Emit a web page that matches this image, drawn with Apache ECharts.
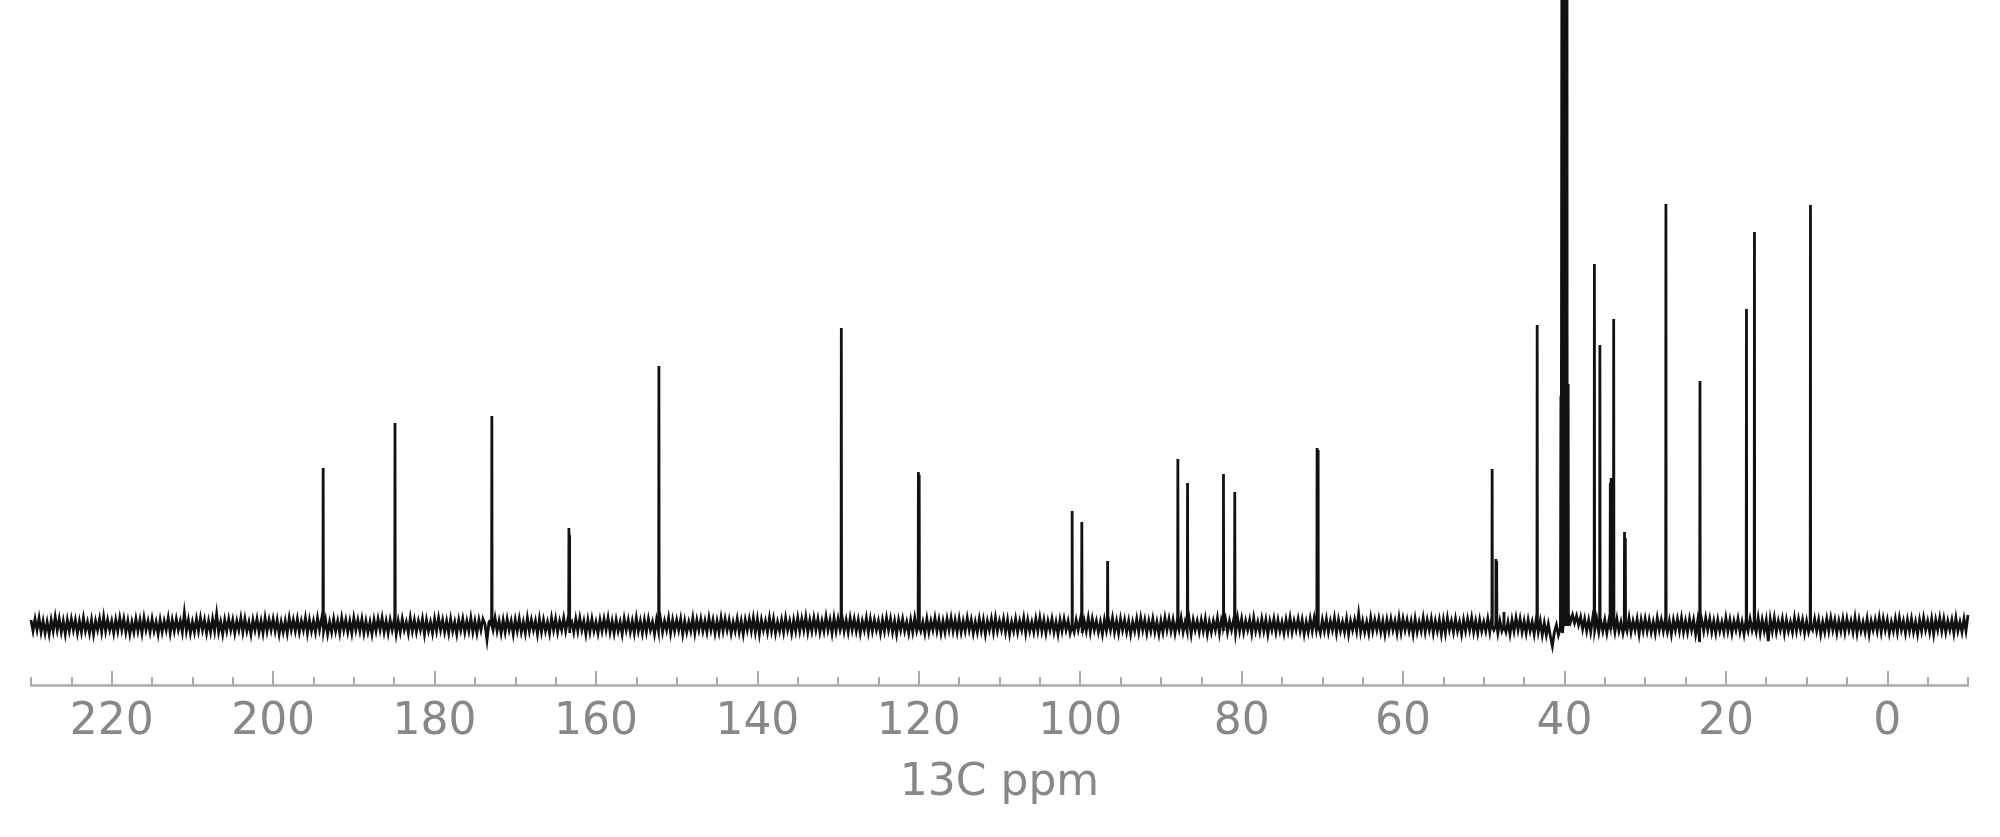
<!DOCTYPE html>
<html>
<head>
<meta charset="utf-8">
<script src="https://cdn.jsdelivr.net/npm/echarts@6/dist/echarts.min.js"></script>
<style>
  html, body { margin: 0; padding: 0; background: #ffffff; }
  #chart { width: 2000px; height: 837px; }
</style>
</head>
<body>
<div id="chart"></div>
<script>
// Peak positions (ppm) and heights (arbitrary intensity units)
const peakPpm = [
  193.8, 184.9, 172.9, 163.35, 163.27, 152.2, 129.6, 120.05, 119.95,
  101.0, 99.8, 96.6, 87.9, 86.7, 82.25, 80.85, 70.65, 70.52,
  48.96, 48.5, 48.4, 47.5, 43.38,
  40.44, 40.29, 40.14, 39.99, 39.84, 39.69, 39.54,
  36.29, 35.61, 34.32, 34.22, 33.9, 32.56, 32.46,
  27.43, 23.21, 17.45, 16.46, 9.52
];
const peakHeight = [
  158, 203, 210, 98, 91, 260, 298, 154, 151,
  115, 104, 65, 167, 143, 152, 134, 178, 176,
  157, 67, 65, 14, 301,
  230, 900, 1500, 1700, 1500, 900, 242,
  362, 281, 143, 148, 307, 94, 88,
  422, 245, 317, 394, 421
];

// Baseline noise, sampled every 0.25 ppm from 230 down to -10 ppm
const noiseStart = 230;
const noiseStep = 0.25;
const noise = [
  6,-5,7,-4,8,-6,5,-7,4,-8,6,-5,9,-4,7,-6,5,-8,6,-5,
  7,-4,6,-7,5,-6,8,-5,4,-7,6,-8,5,-4,7,-6,9,-5,6,-4,
  5,-7,6,-5,8,-4,7,-6,5,-8,4,-6,7,-5,6,-7,8,-4,5,-6,
  7,-5,4,-8,6,-6,5,-4,8,-7,6,-5,7,-4,5,-6,13,-5,6,-7,
  4,-6,7,-5,8,-4,6,-7,5,-6,7,-5,12,-6,4,-8,6,-5,7,-4,
  6,-7,5,-4,8,-6,7,-5,4,-8,6,-4,7,-6,5,-7,8,-5,6,-4,
  7,-5,6,-8,4,-6,5,-7,8,-4,6,-5,7,-6,5,-4,8,-7,6,-5,
  5,-6,8,-4,7,-5,6,-8,4,-6,7,-5,5,-7,8,-4,6,-6,5,-7,
  8,-4,6,-5,7,-7,5,-6,4,-8,6,-5,7,-4,8,-6,5,-7,6,-4,
  6,-8,5,-6,7,-4,4,-7,8,-5,6,-6,5,-4,7,-8,6,-5,4,-7,
  7,-5,8,-4,6,-6,5,-7,7,-5,4,-8,6,-4,7,-6,5,-5,8,-6,
  5,-7,6,-4,7,2,-14,4,6,-4,8,-5,5,-7,6,-6,7,-4,5,-8,
  6,-5,7,-6,4,-7,8,-5,6,-4,5,-8,7,-6,6,-5,4,-7,8,-4,
  7,-6,5,-4,8,-5,6,-7,4,-6,7,-5,8,-4,5,-8,6,-6,7,-5,
  4,-7,6,-5,7,-4,8,-6,5,-7,6,-5,4,-8,7,-4,6,-6,5,-7,
  8,-5,5,-7,6,-6,7,-4,4,-8,6,-5,7,-6,5,-4,8,-7,6,-5,
  6,-4,7,-8,5,-6,4,-5,8,-7,6,-4,7,-5,5,-6,8,-4,6,-7,
  5,-6,8,-5,7,-4,6,-7,4,-5,7,-6,5,-8,6,-4,7,-5,8,-6,
  7,-8,6,-4,5,-6,8,-5,7,-7,4,-5,6,-6,8,-4,5,-7,6,-5,
  8,-5,7,-4,9,-6,6,-5,8,-4,7,-6,5,-5,9,-4,6,-7,8,-5,
  7,-4,9,-5,6,-6,8,-4,7,-5,6,-7,5,-4,8,-6,7,-5,6,-4,
  5,-7,6,-5,8,-4,7,-6,5,-8,6,-4,7,-5,4,-7,6,-6,8,-5,
  6,-5,4,-7,7,-6,5,-4,8,-5,6,-7,5,-6,7,-4,8,-5,6,-6,
  7,-6,5,-5,8,-4,6,-7,4,-6,7,-5,6,-8,5,-4,7,-6,8,-5,
  5,-4,7,-6,6,-8,4,-5,7,-6,5,-4,8,-7,6,-5,4,-6,7,-5,
  8,-5,6,-7,5,-4,7,-6,4,-8,6,-5,7,-4,5,-7,8,-6,6,-4,
  6,-7,5,-5,8,-6,7,-4,5,-6,4,-8,6,-5,7,-4,8,-6,5,-7,
  7,-4,6,-6,5,-8,4,-5,7,-6,8,-4,6,-7,5,-5,7,-6,4,-8,
  5,-6,8,-4,7,-5,6,-7,5,-4,8,-6,4,-5,7,-8,6,-4,5,-6,
  6,-5,7,-8,4,-6,5,-4,8,-7,6,-5,7,-6,5,-4,6,-7,8,-5,
  7,-6,5,-4,6,-7,8,-5,4,-6,7,-5,6,-8,5,-4,7,-6,6,-5,
  4,-7,6,-5,8,-6,5,-4,7,-5,6,-8,4,-6,7,-5,8,-4,6,-7,
  6,-5,7,-6,5,-4,8,-7,6,-5,4,-6,7,-8,5,-4,6,-5,12,-6,
  5,-6,4,-7,8,-5,6,-4,7,-6,5,-8,6,-5,7,-4,5,-7,8,-6,
  7,-4,6,-5,5,-8,7,-6,4,-5,8,-6,6,-4,7,-7,5,-5,6,-8,
  6,-7,8,-4,5,-6,7,-5,4,-8,6,-5,7,-4,8,-6,5,-7,6,-5,
  4,-5,7,-6,8,-4,6,-7,5,-5,7,-6,4,-8,6,-5,8,-4,7,-6,
  5,-7,6,-5,4,-8,7,-6,5,-9,3,-9,2,-10,-20,-6,1,-9,-2,-7,
  9,2,12,4,11,3,10,1,9,-3,7,-5,6,-6,8,-4,7,-6,5,-5,
  6,-7,5,-4,8,-6,7,-5,4,-7,6,-5,8,-6,5,-4,7,-8,6,-5,
  7,-5,6,-6,4,-7,8,-4,6,-5,7,-6,5,-8,6,-4,7,-5,8,-6,
  5,-6,7,-4,6,-8,5,-16,6,-5,8,-4,7,-6,5,-7,6,-5,4,-6,
  8,-5,6,-7,5,-4,7,-6,4,-8,6,-5,7,-4,5,-6,8,-7,6,-5,
  6,-15,7,-5,8,-6,5,-4,7,-7,6,-5,4,-6,8,-5,7,-4,6,-7,
  5,-6,8,-4,7,-5,6,-8,4,-6,7,-5,8,-4,6,-7,5,-5,7,-6,
  7,-4,5,-6,8,-7,6,-5,4,-6,7,-8,5,-4,6,-5,8,-6,7,-4,
  6,-7,4,-5,7,-6,8,-4,5,-7,6,-5,7,-6,4,-8,6,-5,8,-4,
  5,-6,7,-8,6,-4,8,-5,7,-6,5,-4,6,-7,8,-5,4,-6,7,-5,
  11
];

const majorTicks = [0, 20, 40, 60, 80, 100, 120, 140, 160, 180, 200, 220];
const minorTicks = [];
for (let v = -10; v <= 230; v += 5) minorTicks.push(v);

// Build spectrum points: noise samples plus narrow peak shapes
const pts = [];
noise.forEach((v, i) => pts.push([noiseStart - noiseStep * i, v]));
const halfW = 0.03;
peakPpm.forEach((p, i) => {
  pts.push([p + halfW, 0]);
  pts.push([p, peakHeight[i]]);
  pts.push([p - halfW, 0]);
});
pts.sort((a, b) => b[0] - a[0]);

const chart = echarts.init(document.getElementById('chart'), null, { renderer: 'canvas' });
const font = 'DejaVu Sans';
chart.setOption({
  animation: false,
  backgroundColor: '#ffffff',
  grid: { left: 31, right: 32, top: 0, bottom: 152, containLabel: false },
  xAxis: [
    {
      type: 'value', min: -10, max: 230, inverse: true, position: 'bottom',
      name: '13C ppm', nameLocation: 'middle', nameGap: 77,
      nameTextStyle: { color: '#888888', fontSize: 44, fontFamily: font },
      axisLine: { show: true, onZero: false, lineStyle: { color: '#aaaaaa', width: 2.5 } },
      axisTick: { show: true, inside: true, length: 14, customValues: majorTicks,
                  lineStyle: { color: '#aaaaaa', width: 2 } },
      axisLabel: { show: true, customValues: majorTicks, margin: 16,
                   color: '#888888', fontSize: 44, fontFamily: font },
      splitLine: { show: false }
    },
    {
      type: 'value', min: -10, max: 230, inverse: true, position: 'bottom',
      axisLine: { show: false, onZero: false },
      axisTick: { show: true, inside: true, length: 8, customValues: minorTicks,
                  lineStyle: { color: '#aaaaaa', width: 2 } },
      axisLabel: { show: false },
      splitLine: { show: false }
    }
  ],
  yAxis: { type: 'value', min: -59, max: 626, show: false, splitLine: { show: false } },
  series: [{
    type: 'line',
    data: pts,
    showSymbol: false,
    symbol: 'none',
    clip: true,
    lineStyle: { color: '#111111', width: 2.8, join: 'miter' },
    silent: true
  }]
});
</script>
</body>
</html>
